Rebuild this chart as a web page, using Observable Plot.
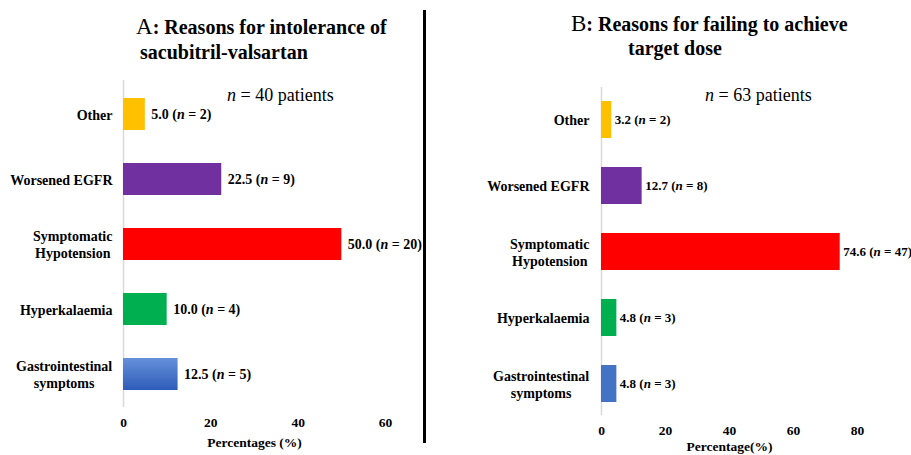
<!DOCTYPE html>
<html><head><meta charset="utf-8">
<script src="https://cdn.jsdelivr.net/npm/d3@7"></script>
<script src="https://cdn.jsdelivr.net/npm/@observablehq/plot@0.6"></script>
<style>
body{margin:0;background:#fff;}
#wrap{position:relative;width:911px;height:455px;overflow:hidden;font-family:"Liberation Serif","Times New Roman",serif;color:#000;background:#fff;}
.t{position:absolute;white-space:nowrap;font-weight:bold;font-size:20px;line-height:24px;}
.big{font-weight:normal;font-size:23px;}
.nn{position:absolute;white-space:nowrap;font-size:18px;line-height:20px;}
.p{position:absolute;top:0;}
#divider{position:absolute;left:423px;top:10px;width:3px;height:433px;background:#000;}
</style></head>
<body>
<div id="wrap">
  <div class="t" style="left:136px;top:15px;"><span class="big">A</span>: Reasons for intolerance of</div>
  <div class="t" style="left:140px;top:40px;">sacubitril-valsartan</div>
  <div class="t" style="left:571px;top:12px;"><span class="big">B</span>: Reasons for failing to achieve</div>
  <div class="t" style="left:628px;top:36px;">target dose</div>
  <div class="nn" style="left:227px;top:85px;"><i>n</i> = 40 patients</div>
  <div class="nn" style="left:705px;top:85px;"><i>n</i> = 63 patients</div>
  <div id="divider"></div>
  <div class="p" id="pa" style="left:0px;"></div>
  <div class="p" id="pb" style="left:450px;"></div>
</div>
<script>
const reasons = ["Other", "Worsened EGFR", "Symptomatic\nHypotension", "Hyperkalaemia", "Gastrointestinal\nsymptoms"];
const pctA = [5.0, 22.5, 50.0, 10.0, 12.5];
const nA = [2, 9, 20, 4, 5];
const pctB = [3.2, 12.7, 74.6, 4.8, 4.8];
const nB = [2, 8, 47, 3, 3];
const ticksA = [0, 20, 40, 60];
const ticksB = [0, 20, 40, 60, 80];
const colorsA = ["#FFC000", "#7030A0", "#FF0000", "#00B050", "url(#giGrad)"];
const colorsB = ["#FFC000", "#7030A0", "#FF0000", "#00B050", "#4472C4"];

const dataA = reasons.map((r, i) => ({reason: r, pct: pctA[i], n: nA[i]}));
const dataB = reasons.map((r, i) => ({reason: r, pct: pctB[i], n: nB[i]}));

function panel(o) {
  return Plot.plot({
    width: o.width, height: 455,
    marginLeft: o.marginLeft, marginRight: o.marginRight,
    marginTop: o.marginTop, marginBottom: o.marginBottom,
    style: {fontFamily: '"Liberation Serif", "Times New Roman", serif', fontSize: "13px", fontWeight: "bold", color: "#000", background: "transparent", overflow: "visible"},
    x: {domain: o.xDomain, label: null},
    y: {domain: reasons, paddingInner: o.paddingInner, paddingOuter: o.paddingOuter, label: null},
    color: {domain: reasons, range: o.fills},
    marks: [
      Plot.ruleX([0], {stroke: "#d9d9d9", strokeWidth: 1.5}),
      Plot.barX(o.data, {x: "pct", y: "reason", fill: "reason"}),
      Plot.text(o.data, {x: "pct", y: "reason", text: d => `${d.pct.toFixed(1)} (n = ${d.n})`, textAnchor: "start", dx: o.dx, fontSize: o.valFont, fontWeight: "bold", fill: "#000"}),
      Plot.axisX({ticks: o.ticks, tickSize: 0, tickPadding: 10, fontSize: 13.5, label: o.label, labelAnchor: "center", labelArrow: "none", labelOffset: o.labelOffset}),
      Plot.axisY({tickSize: 0, tickPadding: o.yPad, label: null, lineHeight: 1.2, fontSize: 14})
    ]
  });
}

function finish(svg) {
  // center multi-line category labels
  svg.querySelectorAll('g[aria-label="y-axis tick label"] text').forEach(t => {
    const ts = t.querySelectorAll("tspan");
    if (ts.length > 1) {
      const w = t.getBBox().width;
      t.setAttribute("text-anchor", "middle");
      ts.forEach(s => s.setAttribute("x", -w / 2));
    }
  });
  // italic n in value labels
  svg.querySelectorAll("text").forEach(t => {
    const m = /^(.*\()n( = .*\))$/.exec(t.textContent);
    if (m && t.querySelectorAll("tspan").length === 0) {
      t.textContent = "";
      const a = document.createElementNS("http://www.w3.org/2000/svg", "tspan");
      a.textContent = m[1];
      const b = document.createElementNS("http://www.w3.org/2000/svg", "tspan");
      b.textContent = "n"; b.setAttribute("font-style", "italic");
      const c = document.createElementNS("http://www.w3.org/2000/svg", "tspan");
      c.textContent = m[2];
      t.append(a, b, c);
    }
  });
}

const svgA = panel({data: dataA, xDomain: [0, 60], ticks: ticksA, width: 423, marginLeft: 123, marginRight: 38,
  marginTop: 80, marginBottom: 48, paddingInner: 0.51, paddingOuter: 0.25, fills: colorsA, dx: 6, valFont: 14,
  yPad: 11, label: "Percentages (%)", labelOffset: 39});
document.getElementById("pa").append(svgA);
const defs = d3.select(svgA).insert("defs", ":first-child");
const grad = defs.append("linearGradient").attr("id", "giGrad").attr("x1", 0).attr("y1", 0).attr("x2", 0).attr("y2", 1);
grad.append("stop").attr("offset", "0%").attr("stop-color", "#6590DA");
grad.append("stop").attr("offset", "100%").attr("stop-color", "#2E5CB8");
finish(svgA);

const svgB = panel({data: dataB, xDomain: [0, 80], ticks: ticksB, width: 461, marginLeft: 151, marginRight: 54,
  marginTop: 87, marginBottom: 40, paddingInner: 0.44, paddingOuter: 0.2, fills: colorsB, dx: 3, valFont: 13,
  yPad: 12, label: "Percentage(%)", labelOffset: 35});
document.getElementById("pb").append(svgB);
finish(svgB);
</script>
</body></html>
